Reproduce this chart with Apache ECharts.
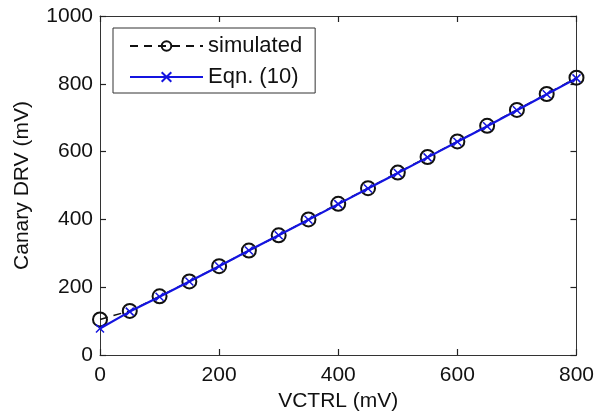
<!DOCTYPE html>
<html>
<head>
<meta charset="utf-8">
<script src="https://cdn.jsdelivr.net/npm/echarts@6/dist/echarts.min.js"></script>
<style>
  html, body { margin: 0; padding: 0; background: #fff; }
  #chart { width: 597px; height: 419px; }
</style>
</head>
<body>
<div id="chart"></div>
<script>
// VCTRL (mV)
var vctrl = [0, 50, 100, 150, 200, 250, 300, 350, 400, 450, 500, 550, 600, 650, 700, 750, 800];
// simulated canary DRV (mV)
var simulated = [105, 130, 173, 217, 262, 308, 353, 400, 446, 492, 538, 584, 630, 676, 723, 770, 818];
// Eqn. (10)
var eqn10 = [78, 128, 172, 217, 262, 308, 353, 399, 445, 491, 537, 583, 629, 675, 722, 769, 816];

function pairs(xs, ys) {
	return xs.map(function (x, i) { return [x, ys[i]]; });
}

var font = "Liberation Sans, Arial, sans-serif";
var crossPath = "path://M0,0L10,10M10,0L0,10";
var blue = "#1414e0";

var myChart = echarts.init(document.getElementById("chart"));

// matlab style box: all four sides, ticks pointing in
function frameAxis(extra) {
	var ax = {
		type: "value",
		axisLine: { show: true, onZero: false, lineStyle: { color: "#333", width: 1 } },
		axisTick: { show: true, inside: true, length: 6, lineStyle: { color: "#222", width: 1.2 } },
		splitLine: { show: false }
	};
	for (var k in extra) ax[k] = extra[k];
	return ax;
}

var option = {
	animation: false,
	backgroundColor: "#fff",
	grid: { left: 100, right: 19, top: 16, bottom: 64, containLabel: false },
	legend: {
		left: 113,
		top: 28,
		orient: "vertical",
		backgroundColor: "#fff",
		borderColor: "#333",
		borderWidth: 1,
		padding: [6, 13, 4, 16],
		itemGap: 7,
		itemWidth: 73,
		itemHeight: 12,
		textStyle: { fontFamily: font, fontSize: 22, lineHeight: 24, color: "#111" },
		data: ["simulated", "Eqn. (10)"]
	},
	xAxis: [
		frameAxis({
			min: 0, max: 800, interval: 200,
			name: "VCTRL (mV)", nameLocation: "middle", nameGap: 36,
			nameTextStyle: { fontFamily: font, fontSize: 21, color: "#111" },
			axisLabel: { fontFamily: font, fontSize: 21, color: "#111", margin: 10 }
		}),
		frameAxis({
			position: "top", min: 0, max: 800, interval: 200,
			axisLabel: { show: false }
		})
	],
	yAxis: [
		frameAxis({
			min: 0, max: 1000, interval: 200,
			name: "Canary DRV (mV)", nameLocation: "middle", nameGap: 67,
			nameTextStyle: { fontFamily: font, fontSize: 21, color: "#111" },
			axisLabel: { fontFamily: font, fontSize: 21, color: "#111", margin: 7,
				formatter: function (v) { return String(v); } }
		}),
		frameAxis({
			position: "right", min: 0, max: 1000, interval: 200,
			axisLabel: { show: false }
		})
	],
	series: [
		{
			name: "simulated",
			type: "line",
			data: pairs(vctrl, simulated),
			symbol: "circle",
			symbolSize: 14,
			showAllSymbol: true,
			lineStyle: { color: "#111", width: 1.5, type: [8, 6] },
			itemStyle: { color: "rgba(0,0,0,0)", borderColor: "#111", borderWidth: 2 },
			z: 2
		},
		{
			name: "Eqn. (10)",
			type: "line",
			data: pairs(vctrl, eqn10),
			symbol: crossPath,
			symbolSize: 8,
			showAllSymbol: true,
			lineStyle: { color: blue, width: 2.2 },
			itemStyle: { color: blue, borderColor: blue, borderWidth: 1.5 },
			z: 3
		}
	]
};

myChart.setOption(option);
</script>
</body>
</html>
